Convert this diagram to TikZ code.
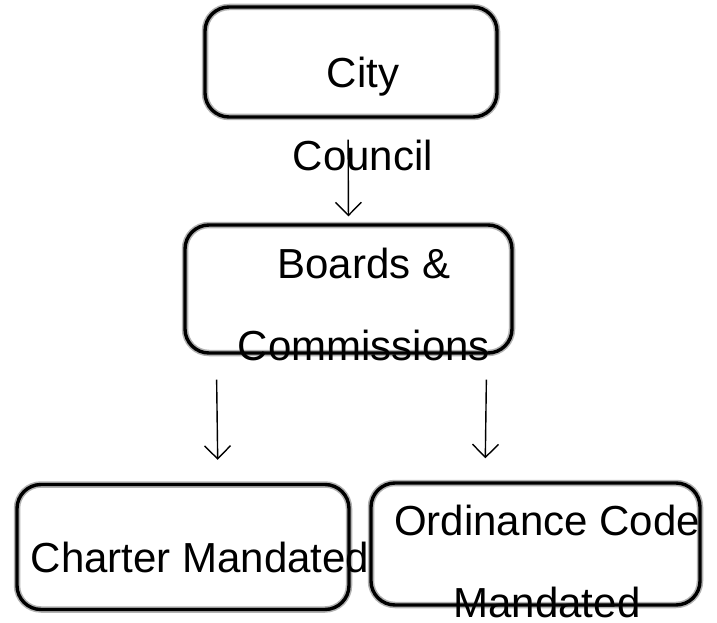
\documentclass[tikz,border=0pt]{standalone}
\usepackage{fontspec}
\setmainfont{Liberation Sans}
\usetikzlibrary{arrows.meta}

\begin{document}
\begin{tikzpicture}[x=1pt, y=-1pt, line join=round,
	box/.style={draw=black, rounded corners=24pt, line width=3.4pt,
		inner sep=0pt,
		preaction={draw=black!30, line width=6.5pt}},
	testo/.style={font=\fontsize{42}{82}\selectfont, align=center,
		inner sep=0pt, anchor=base},
	freccia/.style={-{Straight Barb[length=13pt, width=26pt]}, line width=1.4pt},
	]
	
	\useasboundingbox (0,0) rectangle (717,623);
	
	%% ── Riquadri ─────────────────────────────────────────────────────────────
	\node[box, minimum width=292pt, minimum height=110pt] (council) at (351,62) {};
	\node[box, minimum width=327pt, minimum height=128pt] (boards) at (348.5,289) {};
	\node[box, minimum width=332pt, minimum height=125pt] (charter) at (183,547) {};
	\node[box, minimum width=329pt, minimum height=122pt] (ordinance) at (535.5,544) {};
	
	%% ── Testi (ancora base = ultima riga) ────────────────────────────────────
	\node[testo] (tcouncil) at (363,170) {City\\Council};
	\node[testo] (tboards) at (364,360) {Boards \&\\Commissions};
	\node[testo] (tcharter) at (200,572) {Charter Mandated};
	\node[testo] (tordinance) at (547,617) {Ordinance Code\\Mandated};
	
	%% ── Frecce ───────────────────────────────────────────────────────────────
	\draw[freccia, shorten <=21pt, shorten >=7pt]
		([xshift=-3pt]council.south) -- (boards.north);
	\draw[freccia, shorten <=25pt, shorten >=23pt]
		([xshift=33pt]boards.south west) -- ([xshift=35pt]charter.north);
	\draw[freccia, shorten <=25pt, shorten >=23pt]
		([xshift=-27pt]boards.south east) -- ([xshift=-50.5pt]ordinance.north);
	
\end{tikzpicture}
\end{document}
